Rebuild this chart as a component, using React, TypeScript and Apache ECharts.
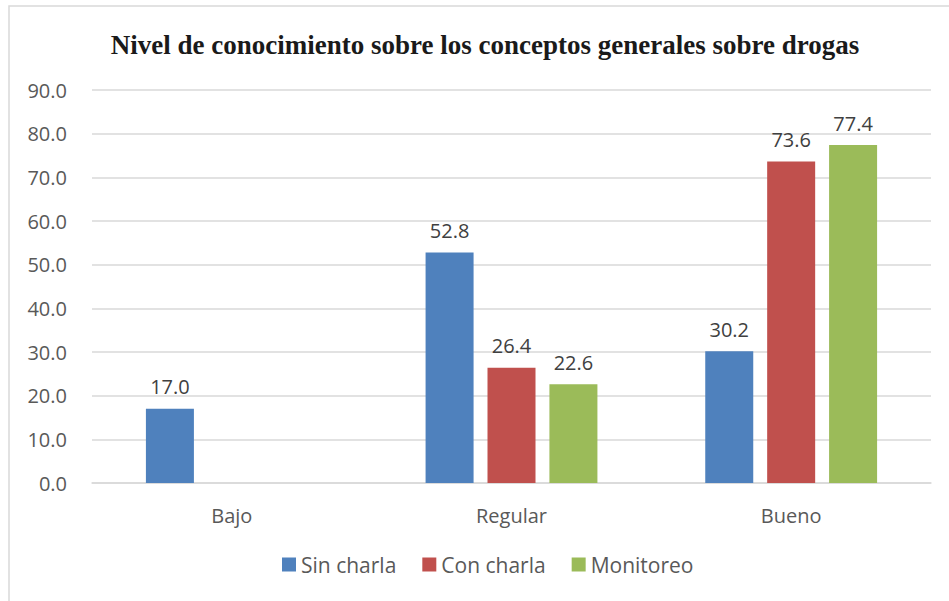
import React, { useEffect, useRef } from "react";
import * as echarts from "echarts";

const categories = ["Bajo", "Regular", "Bueno"];
const seriesNames = ["Sin charla", "Con charla", "Monitoreo"];
const sinCharla = [17.0, 52.8, 30.2];
const conCharla = [null, 26.4, 73.6];
const monitoreo = [null, 22.6, 77.4];
const colors = ["#4F81BD", "#C0504D", "#9BBB59"];
const yTicks = { min: 0, max: 90, interval: 10 };

export default function App() {
  const ref = useRef<HTMLDivElement>(null);
  useEffect(() => {
    document.body.style.margin = "0";
    const chart = echarts.init(ref.current!, null, { renderer: "svg" });
    const font = "'Open Sans', 'Liberation Sans', sans-serif";
    const mk = (name: string, data: (number | null)[], color: string) => ({
      name,
      type: "bar",
      data,
      barWidth: 48,
      barGap: "29%",
      itemStyle: { color },
      label: {
        show: true,
        position: "top",
        distance: 12,
        formatter: (p: any) => (p.value == null ? "" : Number(p.value).toFixed(1)),
        color: "#404040",
        fontSize: 20,
        fontFamily: font,
      },
    });
    chart.setOption({
      animation: false,
      backgroundColor: "#fff",
      title: {
        text: "Nivel de conocimiento sobre los conceptos generales sobre drogas",
        left: 480,
        textAlign: "center",
        top: 26,
        textStyle: {
          fontFamily: "'Liberation Serif', 'DejaVu Serif', serif",
          fontWeight: "bold",
          fontSize: 27,
          color: "#1a1a1a",
        },
      },
      graphic: [
        {
          type: "rect",
          shape: { x: 9, y: 6, width: 960, height: 620 },
          style: { fill: "none", stroke: "#d9d9d9", lineWidth: 1.5 },
          silent: true,
        },
      ],
      legend: {
        data: seriesNames,
        bottom: 21,
        left: 277,
        itemWidth: 14,
        itemHeight: 14,
        itemGap: 26,
        icon: "rect",
        textStyle: { color: "#595959", fontSize: 21, fontFamily: font },
      },
      grid: { left: 92, right: 18, top: 90, bottom: 118 },
      xAxis: {
        type: "category",
        data: categories,
        axisTick: { show: false },
        axisLine: { lineStyle: { color: "#d9d9d9", width: 1.5 } },
        axisLabel: { color: "#595959", fontSize: 20, fontFamily: font, margin: 22 },
      },
      yAxis: {
        type: "value",
        min: yTicks.min,
        max: yTicks.max,
        interval: yTicks.interval,
        axisLine: { show: false },
        axisTick: { show: false },
        splitLine: { lineStyle: { color: "#d9d9d9", width: 1.5 } },
        axisLabel: {
          color: "#595959",
          fontSize: 20,
          fontFamily: font,
          margin: 25,
          formatter: (v: number) => v.toFixed(1),
        },
      },
      series: [
        mk(seriesNames[0], sinCharla, colors[0]),
        mk(seriesNames[1], conCharla, colors[1]),
        mk(seriesNames[2], monitoreo, colors[2]),
      ],
    });
    return () => chart.dispose();
  }, []);
  return <div ref={ref} style={{ width: 949, height: 601 }} />;
}
